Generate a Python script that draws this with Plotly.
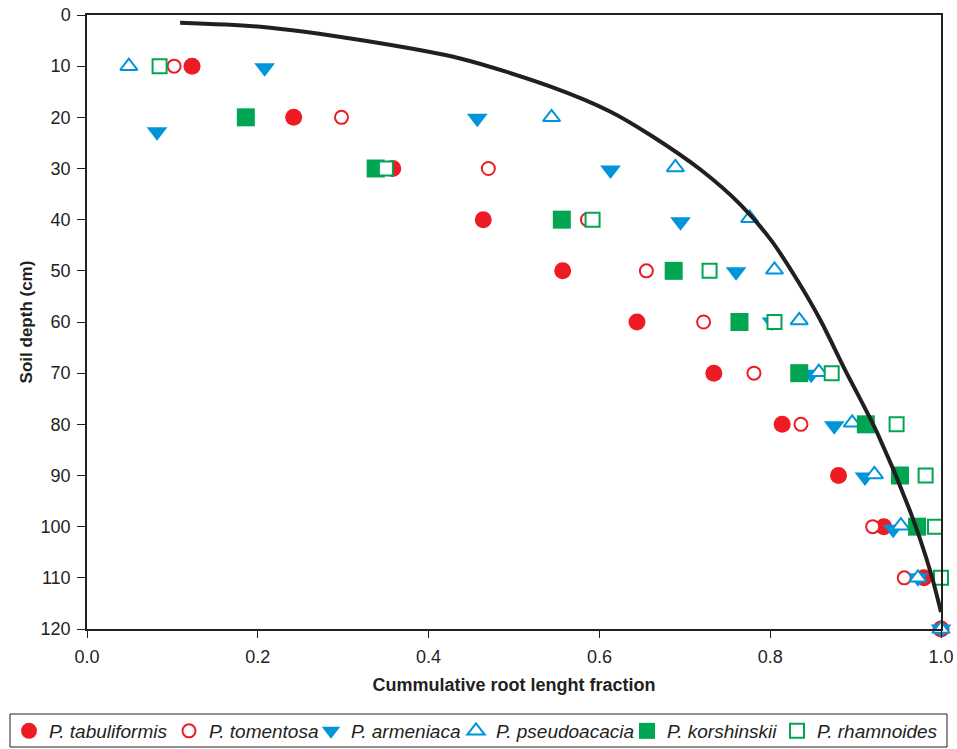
import plotly.graph_objects as go

# ---- data ----
tabuliformis_x = [0.123, 0.242, 0.358, 0.464, 0.557, 0.644, 0.734, 0.814, 0.880, 0.933, 0.980, 1.0]
tabuliformis_y = [10, 20, 30, 40, 50, 60, 70, 80, 90, 100, 110, 120]

tomentosa_x = [0.102, 0.298, 0.470, 0.586, 0.655, 0.722, 0.781, 0.836, 0.920, 0.957, 1.0]
tomentosa_y = [10, 20, 30, 40, 50, 60, 70, 80, 100, 110, 120]

armeniaca_x = [0.208, 0.082, 0.457, 0.613, 0.695, 0.760, 0.802, 0.848, 0.875, 0.911, 0.944, 0.973, 1.0]
armeniaca_y = [10.3, 22.8, 20.2, 30.3, 40.4, 50.2, 60, 70.2, 80.3, 90.3, 100.5, 110, 120]

pseudoacacia_x = [0.049, 0.544, 0.689, 0.776, 0.805, 0.834, 0.857, 0.896, 0.922, 0.953, 0.973, 1.0]
pseudoacacia_y = [10, 20, 29.8, 39.7, 49.8, 59.7, 69.8, 79.7, 89.8, 99.8, 110, 120]

korshinskii_x = [0.186, 0.338, 0.556, 0.687, 0.764, 0.834, 0.912, 0.952, 0.972]
korshinskii_y = [20, 30, 40, 50, 60, 70, 80, 90, 100]

rhamnoides_x = [0.085, 0.350, 0.592, 0.729, 0.805, 0.872, 0.948, 0.982, 0.993, 1.0]
rhamnoides_y = [10, 30, 40, 50, 60, 70, 80, 90, 100, 110]

curve_x = [0.109, 0.203, 0.320, 0.437, 0.543, 0.613, 0.660, 0.719, 0.766, 0.801,
           0.832, 0.859, 0.886, 0.926, 0.965, 0.988, 1.0]
curve_y = [1.5, 2.3, 4.9, 8.5, 14.0, 18.9, 23.5, 30.3, 37.2, 44.0,
           51.9, 59.7, 68.8, 81.9, 97.5, 109.0, 116.7]

x_ticks = [0.0, 0.2, 0.4, 0.6, 0.8, 1.0]
y_ticks = [0, 10, 20, 30, 40, 50, 60, 70, 80, 90, 100, 110, 120]

RED = "#ED1C24"
BLUE = "#0095DA"
GREEN = "#00A651"
INK = "#231F20"
FONT = "Liberation Sans, Arial, sans-serif"

W, H = 957, 749
ML, MR, MT, MB = 87, 16, 15, 120
PW, PH = W - ML - MR, H - MT - MB

series = [
    ("P. tabuliformis", tabuliformis_x, tabuliformis_y,
     dict(symbol="circle", size=17, color=RED, line=dict(width=0))),
    ("P. tomentosa", tomentosa_x, tomentosa_y,
     dict(symbol="circle", size=13, color="white", line=dict(width=2, color=RED))),
    ("P. armeniaca", armeniaca_x, armeniaca_y,
     dict(symbol="triangle-down", size=18, color=BLUE, line=dict(width=0))),
    ("P. pseudoacacia", pseudoacacia_x, pseudoacacia_y,
     dict(symbol="triangle-up", size=15, color="white", line=dict(width=2, color=BLUE))),
    ("P. korshinskii", korshinskii_x, korshinskii_y,
     dict(symbol="square", size=18, color=GREEN, line=dict(width=0))),
    ("P. rhamnoides", rhamnoides_x, rhamnoides_y,
     dict(symbol="square", size=14, color="white", line=dict(width=2, color=GREEN))),
]

# legend entry symbol centres (px, from the left of the page)
legend_centres = [30, 190, 332, 477, 648, 798]

fig = go.Figure()
layout_legends = {}
for i, (name, xs, ys, mk) in enumerate(series):
    key = "legend" if i == 0 else f"legend{i + 1}"
    fig.add_trace(go.Scatter(x=xs, y=ys, mode="markers", name=name, marker=mk,
                             legend=key, cliponaxis=False))
    layout_legends[key] = dict(
        orientation="h",
        xref="container", yref="container",
        x=(legend_centres[i] - 21) / W, xanchor="left",
        y=18 / H, yanchor="middle",
        borderwidth=0, bgcolor="rgba(0,0,0,0)",
        font=dict(family=FONT, size=19, style="italic", color=INK),
        itemsizing="trace",
    )

fig.add_trace(go.Scatter(x=curve_x, y=curve_y, mode="lines", showlegend=False,
                         line=dict(color=INK, width=4, shape="spline", smoothing=0.8),
                         hoverinfo="skip"))

# legend frame
fig.add_shape(type="rect", xref="paper", yref="paper",
              x0=(10 - ML) / PW, x1=(947 - ML) / PW,
              y0=-(714 - (MT + PH)) / PH, y1=-(747 - (MT + PH)) / PH,
              line=dict(color=INK, width=1), fillcolor="rgba(0,0,0,0)", layer="above")

fig.update_layout(
    width=W, height=H,
    margin=dict(l=ML, r=MR, t=MT, b=MB, autoexpand=False),
    paper_bgcolor="white", plot_bgcolor="white",
    font=dict(family=FONT, size=18, color=INK),
    showlegend=True,
    **layout_legends,
)

fig.update_xaxes(
    range=[0, 1.0], tickvals=x_ticks, tickformat=".1f",
    showgrid=False, zeroline=False, automargin=False,
    showline=True, linecolor=INK, linewidth=1.5, mirror=True,
    ticks="outside", ticklen=7, tickcolor=INK, tickwidth=1.2,
    tickfont=dict(size=18), ticklabelstandoff=4,
    title=dict(text="<b>Cummulative root lenght fraction</b>", font=dict(size=18), standoff=12),
)
fig.update_yaxes(
    range=[120, 0], tickvals=y_ticks,
    showgrid=False, zeroline=False, automargin=False,
    showline=True, linecolor=INK, linewidth=1.5, mirror=True,
    ticks="outside", ticklen=8, tickcolor=INK, tickwidth=1.2,
    tickfont=dict(size=18), ticklabelstandoff=3,
    title=dict(text="<b>Soil depth (cm)</b>", font=dict(size=17), standoff=4),
)

fig.write_html(
    "out.html",
    config={"displayModeBar": False},
    post_script="document.body.style.margin='0px';document.body.style.overflow='hidden';",
)
